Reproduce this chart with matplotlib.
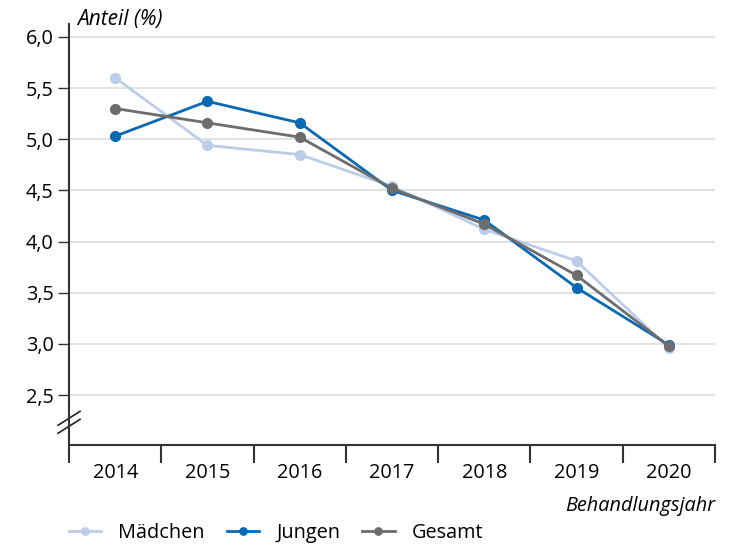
import matplotlib
matplotlib.use("Agg")
import matplotlib.pyplot as plt
from matplotlib.lines import Line2D
from matplotlib.ticker import FixedLocator, FuncFormatter

years = [2014, 2015, 2016, 2017, 2018, 2019, 2020]
maedchen = [5.60, 4.94, 4.85, 4.54, 4.12, 3.81, 2.96]
jungen = [5.03, 5.37, 5.16, 4.50, 4.21, 3.55, 2.99]
gesamt = [5.30, 5.16, 5.02, 4.52, 4.17, 3.67, 2.98]
yticks = [2.5, 3.0, 3.5, 4.0, 4.5, 5.0, 5.5, 6.0]

c_m = "#bccde9"
c_j = "#0a69b3"
c_g = "#6d6d6d"

plt.rcParams['font.family'] = ['Open Sans', 'DejaVu Sans']
FS = 14.3

fig = plt.figure(figsize=(7.29, 5.47), dpi=100)
ax = fig.add_axes([0.0947, 0.186, 0.886, 0.770])

x = list(range(len(years)))
for vals, col, lab in [(maedchen, c_m, "Mädchen"), (jungen, c_j, "Jungen"), (gesamt, c_g, "Gesamt")]:
    ax.plot(x, vals, color=col, lw=2, marker='o', ms=7, label=lab, zorder=3)

ax.set_xlim(-0.5, len(years) - 0.5)
ax.set_ylim(2.01, 6.125)
ax.yaxis.set_major_locator(FixedLocator(yticks))
ax.yaxis.set_major_formatter(FuncFormatter(lambda v, p: f"{v:.1f}".replace('.', ',')))
ax.grid(axis='y', color='#dcdcdc', lw=1.2, zorder=0)

ax.set_xticks(x)
ax.set_xticklabels([str(y) for y in years])
ax.set_xticks([i - 0.5 for i in range(len(years) + 1)], minor=True)
ax.tick_params(axis='x', which='major', length=0, pad=13, labelsize=FS)
ax.tick_params(axis='x', which='minor', length=13, width=1.5, color='#333333', direction='out')
ax.tick_params(axis='y', length=8, width=1, color='#333333', labelsize=FS, pad=3)

for s in ['top', 'right']:
    ax.spines[s].set_visible(False)
for s in ['left', 'bottom']:
    ax.spines[s].set_color('#333333')
    ax.spines[s].set_linewidth(1.5)

# axis break marks
for yc in [0.045, 0.064]:
    ax.add_line(Line2D([-0.017, 0.017], [yc - 0.0165, yc + 0.0165], transform=ax.transAxes,
                       color='#222222', lw=1.2, clip_on=False))

ax.text(0.012, 1.01, "Anteil (%)", transform=ax.transAxes, fontsize=15, style='italic',
        ha='left', va='center')
fig.text(0.981, 0.075, "Behandlungsjahr", fontsize=FS, style='italic', ha='right', va='center')

fig.legend(loc='center left', bbox_to_anchor=(0.094, 0.026), ncol=3, frameon=False,
           fontsize=FS, handlelength=1.65, columnspacing=1.1, handletextpad=0.85,
           markerscale=0.75, borderaxespad=0, borderpad=0)

fig.savefig("out.png", dpi=100)
